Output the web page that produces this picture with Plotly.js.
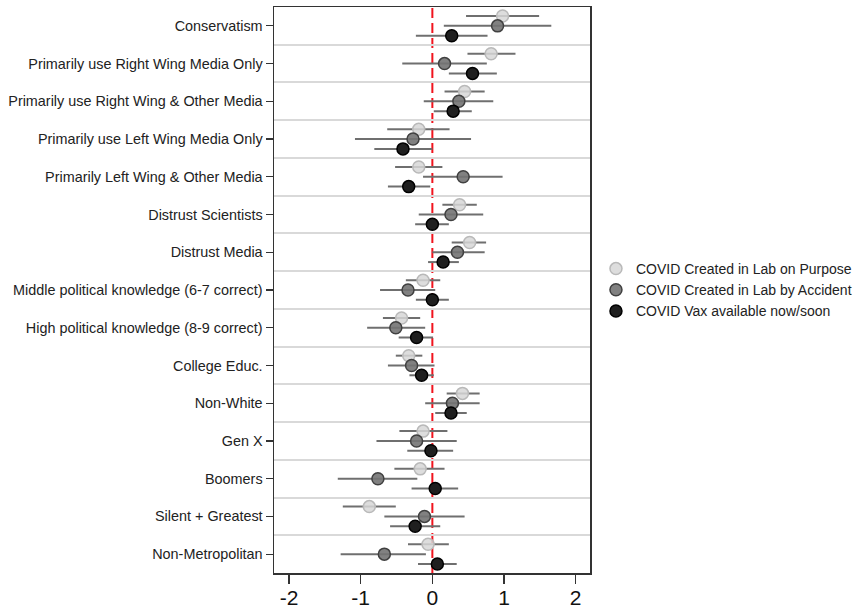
<!DOCTYPE html>
<html>
<head>
<meta charset="utf-8">
<script src="https://cdn.plot.ly/plotly-3.0.1.min.js"></script>
<style>html,body{margin:0;padding:0;background:#fff;}#chart{width:858px;height:609px;}</style>
</head>
<body>
<div id="chart"></div>
<script>
const categories = [
  "Conservatism",
  "Primarily use Right Wing Media Only",
  "Primarily use Right Wing & Other Media",
  "Primarily use Left Wing Media Only",
  "Primarily Left Wing & Other Media",
  "Distrust Scientists",
  "Distrust Media",
  "Middle political knowledge (6-7 correct)",
  "High political knowledge (8-9 correct)",
  "College Educ.",
  "Non-White",
  "Gen X",
  "Boomers",
  "Silent + Greatest",
  "Non-Metropolitan"
];
const seriesNames = ["COVID Created in Lab on Purpose", "COVID Created in Lab by Accident", "COVID Vax available now/soon"];

// Point estimates
const purposeEst  = [0.98, 0.82, 0.45, -0.19, -0.19, 0.38, 0.52, -0.13, -0.43, -0.33, 0.42, -0.13, -0.17, -0.88, -0.06];
const accidentEst = [0.91, 0.17, 0.37, -0.27, 0.43, 0.26, 0.35, -0.34, -0.51, -0.29, 0.28, -0.22, -0.76, -0.11, -0.67];
const vaxEst      = [0.27, 0.56, 0.29, -0.41, -0.33, 0.00, 0.15, 0.00, -0.22, -0.15, 0.26, -0.02, 0.04, -0.24, 0.07];

// Confidence interval bounds
const purposeLo  = [0.47, 0.49, 0.17, -0.63, -0.52, 0.14, 0.27, -0.37, -0.69, -0.51, 0.20, -0.46, -0.53, -1.25, -0.34];
const purposeHi  = [1.49, 1.16, 0.73, 0.24, 0.14, 0.62, 0.75, 0.11, -0.17, -0.14, 0.66, 0.21, 0.17, -0.51, 0.23];
const accidentLo = [0.16, -0.42, -0.12, -1.08, -0.13, -0.19, 0.00, -0.73, -0.91, -0.62, -0.10, -0.78, -1.32, -0.67, -1.28];
const accidentHi = [1.66, 0.76, 0.85, 0.54, 0.98, 0.71, 0.73, 0.04, -0.10, 0.03, 0.66, 0.34, -0.21, 0.45, -0.09];
const vaxLo      = [-0.23, 0.23, 0.02, -0.81, -0.62, -0.24, -0.06, -0.23, -0.47, -0.32, 0.04, -0.35, -0.29, -0.59, -0.20];
const vaxHi      = [0.77, 0.90, 0.55, 0.00, -0.03, 0.23, 0.37, 0.23, 0.01, 0.02, 0.48, 0.29, 0.36, 0.11, 0.34];

const xTicks = [-2, -1, 0, 1, 2];

const idx = categories.map((c, i) => i);
const offsets = [-0.26, 0, 0.26];

function mkTrace(k, est, lo, hi, fill, edge) {
  return {
    type: 'scatter', mode: 'markers', name: seriesNames[k],
    x: est,
    y: idx.map(i => i + offsets[k]),
    error_x: {
      type: 'data', symmetric: false,
      array: est.map((v, i) => hi[i] - v),
      arrayminus: est.map((v, i) => v - lo[i]),
      color: '#6f6f6f', thickness: 2, width: 0
    },
    marker: { size: 12, color: fill, line: { color: edge, width: 1.5 } },
    hoverinfo: 'skip'
  };
}

const data = [
  mkTrace(0, purposeEst, purposeLo, purposeHi, 'rgba(215,215,215,0.85)', 'rgba(185,185,185,1)'),
  mkTrace(1, accidentEst, accidentLo, accidentHi, 'rgba(115,115,115,0.9)', '#404040'),
  mkTrace(2, vaxEst, vaxLo, vaxHi, '#1f1f1f', '#000000')
];

const layout = {
  width: 858, height: 609,
  margin: { l: 274, r: 268, t: 7, b: 36, autoexpand: false },
  paper_bgcolor: '#ffffff', plot_bgcolor: '#ffffff',
  font: { family: 'Liberation Sans, Arial, sans-serif', color: '#222' },
  showlegend: true,
  legend: {
    xref: 'container', x: 0.6946, xanchor: 'left', y: 0.5, yanchor: 'middle',
    font: { size: 14, color: '#222' }, bgcolor: 'rgba(0,0,0,0)',
    itemwidth: 30, tracegroupgap: 0, entrywidth: 0
  },
  xaxis: {
    range: [-2.21, 2.2], tickvals: xTicks, ticktext: xTicks.map(String),
    showgrid: false, zeroline: false,
    showline: true, linecolor: '#333', linewidth: 1.5, mirror: true,
    ticks: 'outside', ticklen: 9, tickwidth: 1.2, tickcolor: '#333',
    ticklabelstandoff: -4,
    tickfont: { size: 21, color: '#111' }
  },
  yaxis: {
    range: [14.5, -0.5], tickvals: idx, ticktext: categories,
    showgrid: false, zeroline: false,
    showline: true, linecolor: '#333', linewidth: 1.5, mirror: true,
    ticks: 'outside', ticklen: 7, tickwidth: 1.2, tickcolor: '#333',
    tickfont: { size: 14.4, color: '#222' },
    minor: { tickmode: 'linear', tick0: 0.5, dtick: 1, showgrid: true, gridcolor: '#d9d9d9', gridwidth: 2, ticks: '' }
  },
  shapes: [{
    type: 'line', xref: 'x', yref: 'paper', x0: 0, x1: 0, y0: 0, y1: 1,
    line: { color: '#f0141e', width: 2, dash: '10px,5px' }, layer: 'between'
  }]
};

Plotly.newPlot('chart', data, layout, { displayModeBar: false, staticPlot: true });
</script>
</body>
</html>
